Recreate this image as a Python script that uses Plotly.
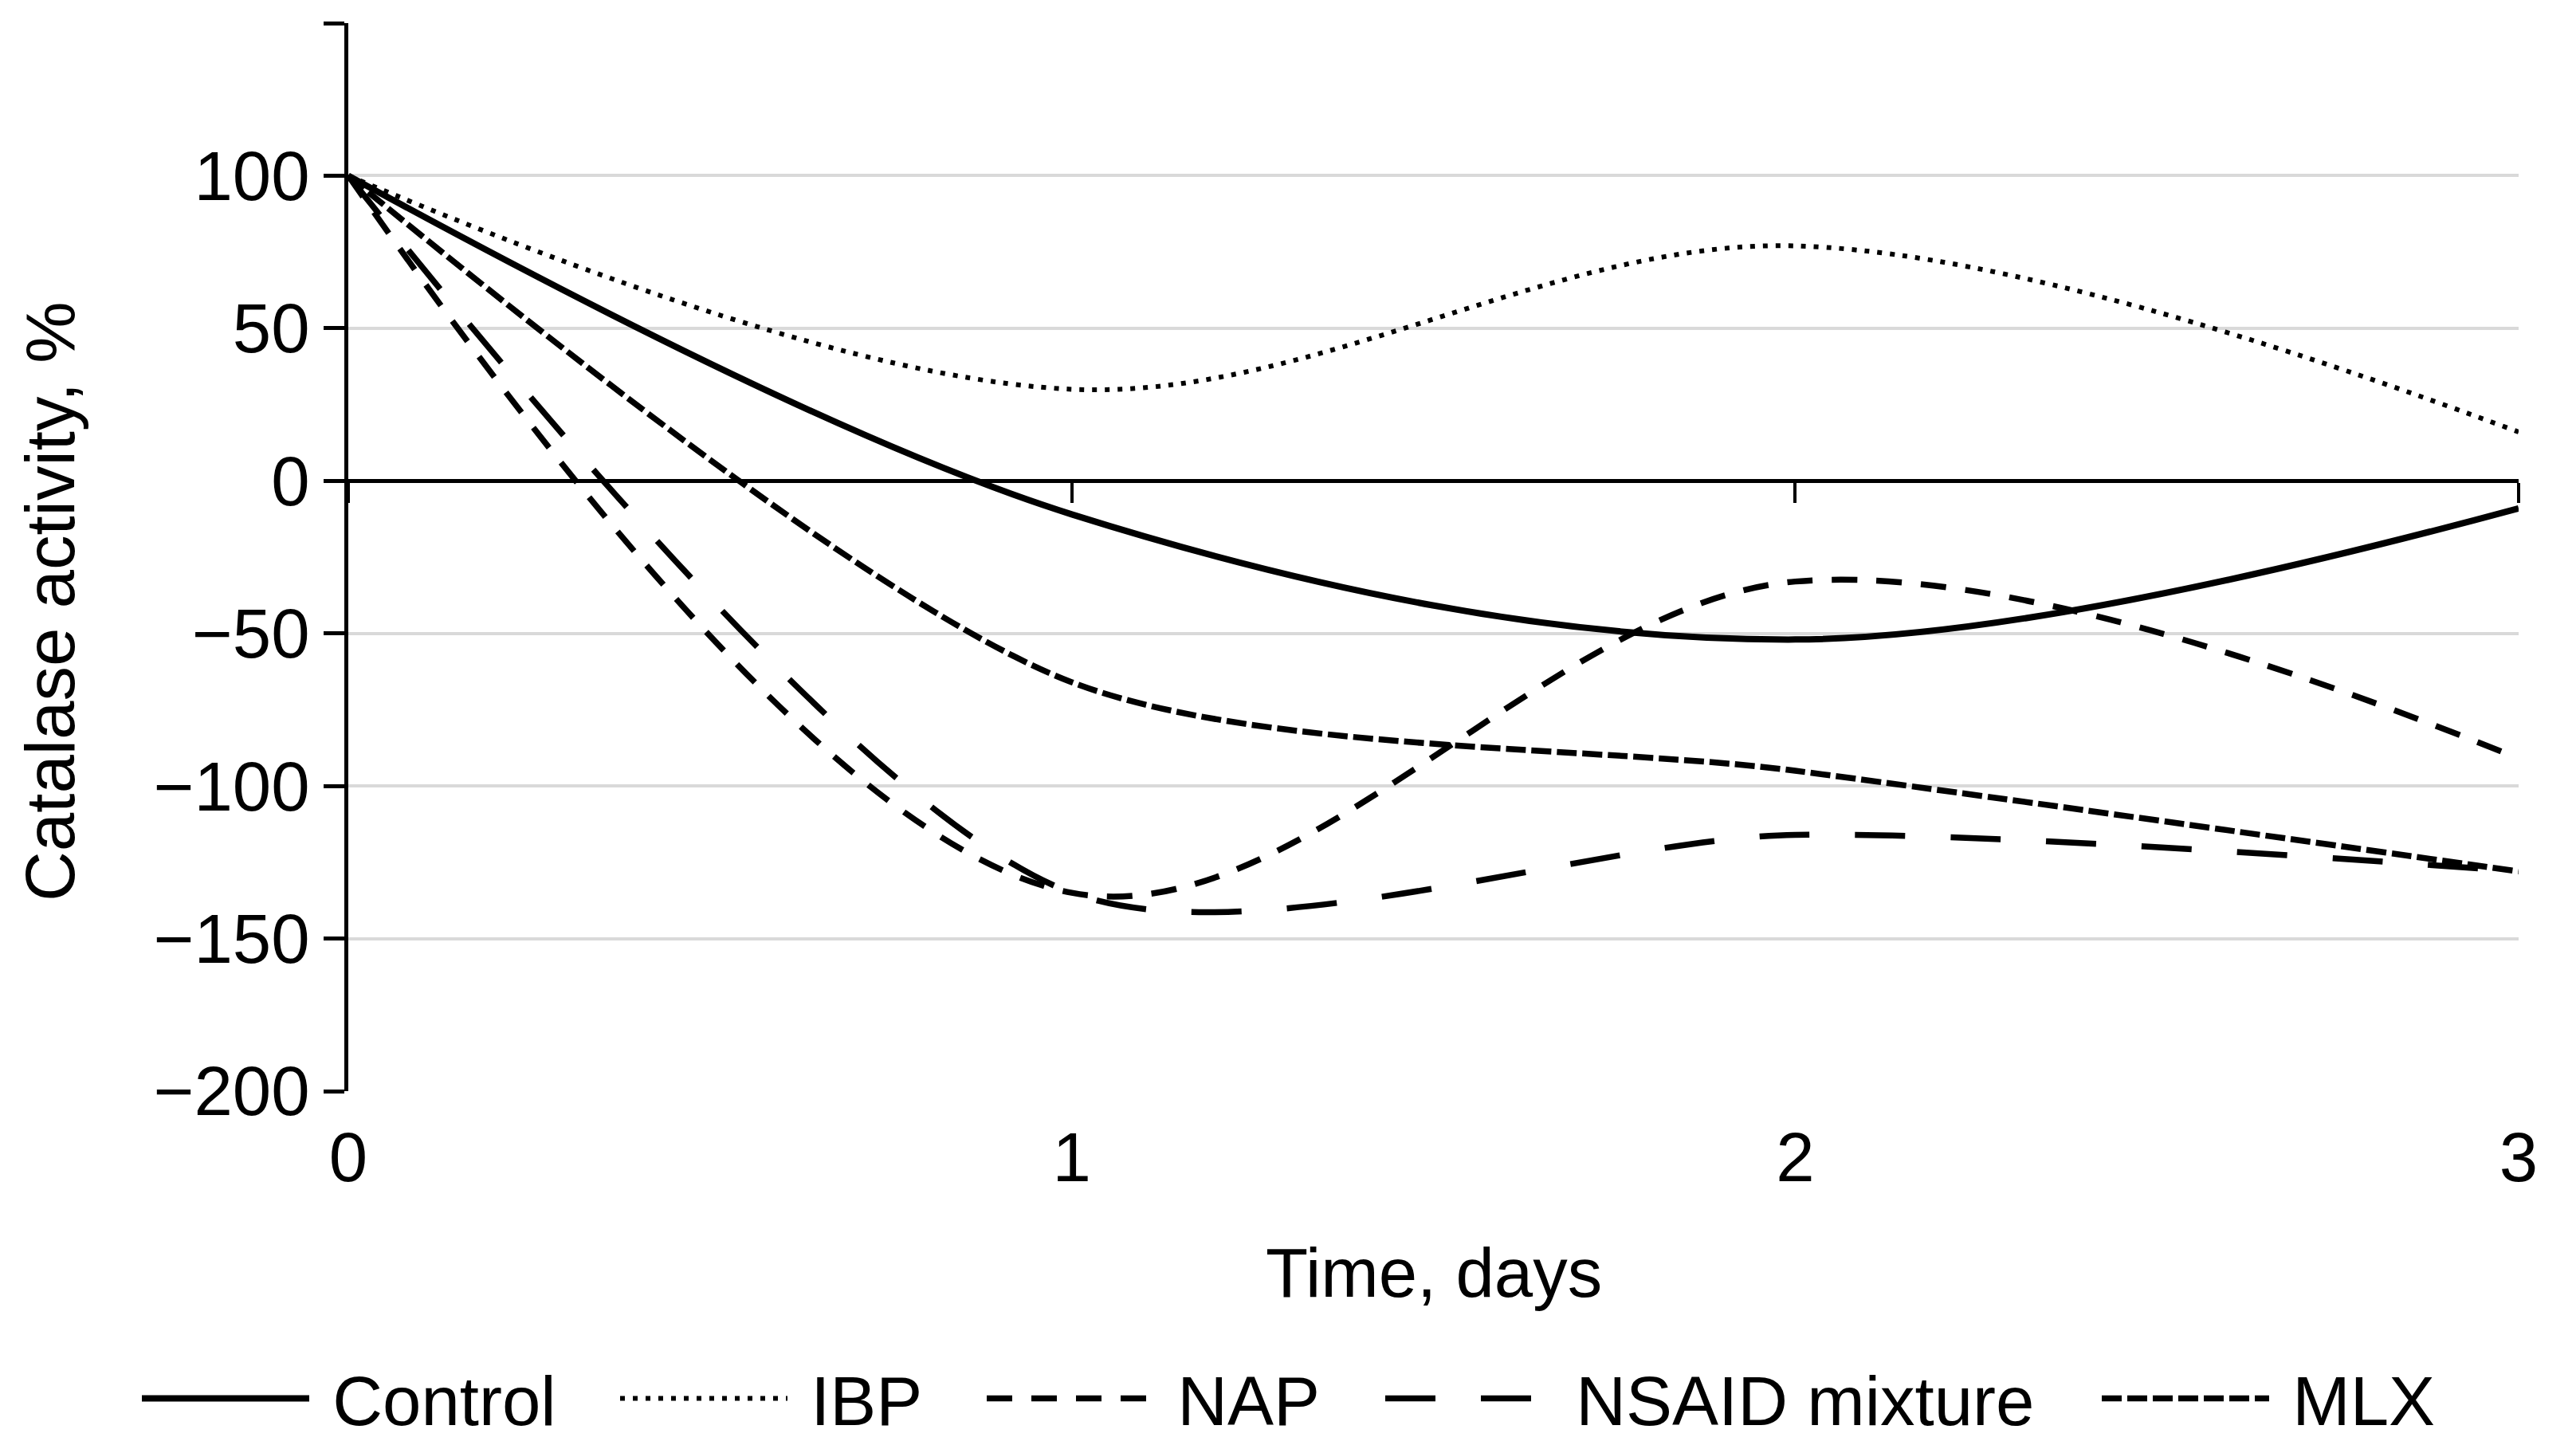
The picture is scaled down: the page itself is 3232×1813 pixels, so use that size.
import plotly.graph_objects as go

# ---- data ----
days = [0, 1, 2, 3]
control = [100, -11, -52, -9]
ibp = [100, 30, 77, 16]
nap = [100, -135, -33, -91]
nsaid = [100, -135, -116, -128]
mlx = [100, -66, -95, -128]

series_names = ["Control", "IBP", "NAP", "NSAID mixture", "MLX"]

y_tickvals = [-200, -150, -100, -50, 0, 50, 100, 150]
y_ticktext = ["\u2212200", "\u2212150", "\u2212100", "\u221250", "0", "50", "100", ""]
x_tickvals = [0, 1, 2, 3]
x_ticktext = ["0", "1", "2", "3"]

W, H = 3232, 1813
L, R, T, B = 437, 72, 29, 444
PW, PH = W - L - R, H - T - B

FONT = "Liberation Sans, Arial, sans-serif"
FS = 87


def px_x(p):
    return (p - L) / PW


def px_y(p):
    return (H - B - p) / PH


# (values, dash, width, smoothing, legend id)
styles = [
    (control, None, 8, 1.0, "legend"),
    (ibp, "6px,10px", 6, 1.0, "legend2"),
    (nap, "32px,24px", 7.5, 1.0, "legend3"),
    (nsaid, "63px,57px", 7.5, 0.8, "legend4"),
    (mlx, "25px,7px", 7.5, 0.8, "legend5"),
]

fig = go.Figure()
for i, (name, (vals, dash, w, sm, lg)) in enumerate(zip(series_names, styles)):
    line = dict(color="black", width=w, shape="spline", smoothing=sm)
    if dash:
        line["dash"] = dash
    fig.add_trace(go.Scatter(
        x=days, y=vals, mode="lines", name="\u00a0" + name, line=line,
        legend=lg, xaxis="x2" if i == 0 else "x", yaxis="y",
        hoverinfo="skip",
    ))

legend_common = dict(
    orientation="h", yanchor="middle", xanchor="left",
    y=px_y(1755), font=dict(family=FONT, size=FS, color="black"),
    bgcolor="rgba(0,0,0,0)", itemwidth=210, borderwidth=0,
)
legend_starts = [183, 783, 1243, 1743, 2642]
layout_legends = {}
for k, s in enumerate(legend_starts):
    key = "legend" if k == 0 else f"legend{k+1}"
    layout_legends[key] = dict(legend_common, x=px_x(s - 10))

fig.update_layout(
    width=W, height=H,
    margin=dict(l=L, r=R, t=T, b=B, autoexpand=False),
    paper_bgcolor="white", plot_bgcolor="white",
    font=dict(family=FONT, size=FS, color="black"),
    showlegend=True,
    xaxis=dict(
        range=[0, 3], tickvals=x_tickvals, ticktext=x_ticktext,
        showline=False, showgrid=False, zeroline=False,
        ticks="outside", ticklen=8, tickcolor="rgba(0,0,0,0)",
        tickfont=dict(family=FONT, size=FS, color="black"),
    ),
    xaxis2=dict(
        range=[0, 3], overlaying="x", anchor="free",
        position=(0 - (-200)) / 350.0,
        tickvals=x_tickvals, showticklabels=False,
        showline=True, linecolor="black", linewidth=5,
        ticks="outside", ticklen=25, tickwidth=4, tickcolor="black",
        showgrid=False, zeroline=False,
    ),
    yaxis=dict(
        range=[-200, 150], tickvals=y_tickvals, ticktext=y_ticktext,
        showline=True, linecolor="black", linewidth=5,
        ticks="outside", ticklen=26, tickwidth=5, tickcolor="black",
        showgrid=True, gridcolor="#d9d9d9", gridwidth=3.5,
        zeroline=True, zerolinecolor="black", zerolinewidth=5,
        tickfont=dict(family=FONT, size=FS, color="black"),
    ),
    annotations=[
        dict(text="Catalase activity, %", xref="paper", yref="paper",
             x=px_x(62), y=px_y(755), textangle=-90, showarrow=False,
             xanchor="center", yanchor="middle",
             font=dict(family=FONT, size=FS, color="black")),
        dict(text="Time, days", xref="paper", yref="paper",
             x=0.5, y=px_y(1596), showarrow=False,
             xanchor="center", yanchor="middle",
             font=dict(family=FONT, size=FS, color="black")),
    ],
    **layout_legends,
)

fig.write_html("out.html")
